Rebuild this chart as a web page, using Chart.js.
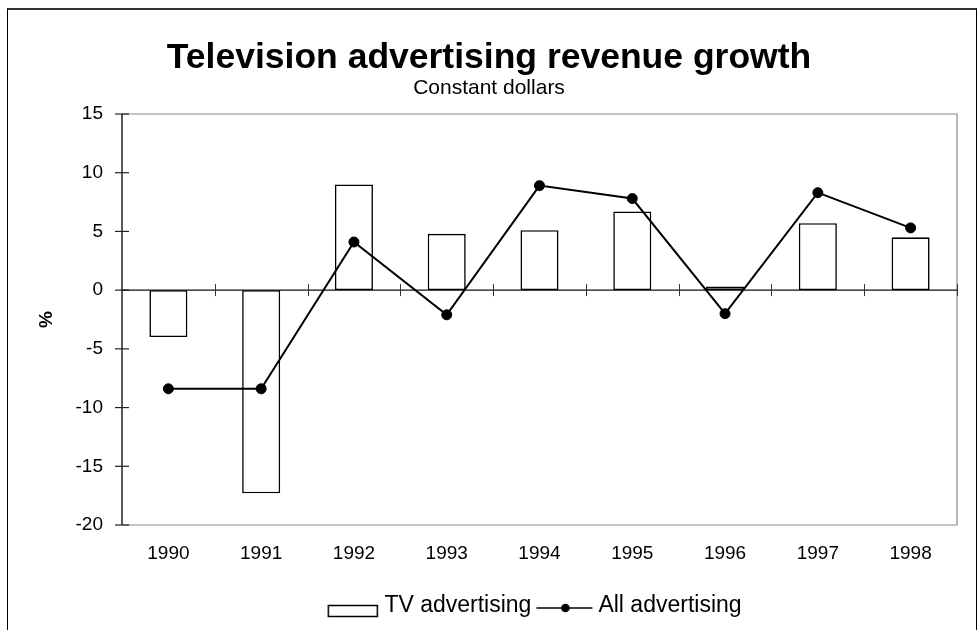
<!DOCTYPE html>
<html><head><meta charset="utf-8">
<script src="https://cdn.jsdelivr.net/npm/chart.js@4.4.1/dist/chart.umd.min.js"></script>
<style>
html,body{margin:0;padding:0;background:#fff;}
#wrap{position:relative;width:978px;height:630px;overflow:hidden;}
#frame{position:absolute;left:7px;top:8px;width:970px;height:630px;border-top:2px solid #333;border-left:1px solid #000;border-right:1px solid #000;box-sizing:border-box;pointer-events:none;}
canvas{position:absolute;left:0;top:0;}
</style></head><body>
<div id="wrap"><canvas id="c" width="978" height="630"></canvas><div id="frame"></div></div>
<script>
const years = ['1990','1991','1992','1993','1994','1995','1996','1997','1998'];
const tvAdvertising = [-4.0, -17.3, 9.0, 4.8, 5.1, 6.7, 0.3, 5.7, 4.5];
const allAdvertising = [-8.4, -8.4, 4.1, -2.1, 8.9, 7.8, -2.0, 8.3, 5.3];
const yTicks = [-20, -15, -10, -5, 0, 5, 10, 15];
const titleText = 'Television advertising revenue growth';
const subtitleText = 'Constant dollars';
const yAxisTitle = '%';
const seriesNames = ['TV advertising', 'All advertising'];

const FONT = "'Liberation Sans', Arial, Helvetica, sans-serif";

function rectIcon(){
  const c=document.createElement('canvas'); c.width=80; c.height=30;
  const g=c.getContext('2d');
  g.fillStyle='#fff'; g.strokeStyle='#000'; g.lineWidth=1.5;
  g.fillRect(13.25,14.5,49,11); g.strokeRect(13.25,14.5,49,11);
  return c;
}
function lineIcon(){
  const c=document.createElement('canvas'); c.width=80; c.height=30;
  const g=c.getContext('2d');
  g.strokeStyle='#000'; g.lineWidth=1.6;
  g.beginPath(); g.moveTo(7.25,17); g.lineTo(63.25,17); g.stroke();
  g.fillStyle='#000'; g.beginPath(); g.arc(36.25,17,4.3,0,Math.PI*2); g.fill();
  return c;
}

const axesPlugin = {
  id:'axesDraw',
  beforeDatasetsDraw(chart){
    const {ctx, chartArea:a, scales:{x,y}} = chart;
    ctx.save();
    ctx.strokeStyle='#8c8c8c'; ctx.lineWidth=1.2;
    ctx.beginPath();
    ctx.moveTo(a.left, a.top); ctx.lineTo(a.right, a.top); ctx.lineTo(a.right, a.bottom); ctx.lineTo(a.left, a.bottom);
    ctx.stroke();
    ctx.strokeStyle='#222'; ctx.lineWidth=1.5;
    ctx.beginPath(); ctx.moveTo(a.left, a.top); ctx.lineTo(a.left, a.bottom); ctx.stroke();
    ctx.lineWidth=1.2;
    yTicks.forEach(v=>{
      const py = y.getPixelForValue(v);
      ctx.beginPath(); ctx.moveTo(a.left-7, py); ctx.lineTo(a.left+7, py); ctx.stroke();
    });
    const p0 = y.getPixelForValue(0);
    ctx.strokeStyle='#111'; ctx.lineWidth=1.2;
    ctx.beginPath(); ctx.moveTo(a.left, p0); ctx.lineTo(a.right, p0); ctx.stroke();
    ctx.strokeStyle='#333'; ctx.lineWidth=1;
    for(let i=1;i<=years.length;i++){
      const px = Math.round(x.getPixelForValue(i-0.5))+0.5;
      ctx.beginPath(); ctx.moveTo(px, p0-6); ctx.lineTo(px, p0+6); ctx.stroke();
    }
    ctx.restore();
  }
};

const icons = [rectIcon(), lineIcon()];

new Chart(document.getElementById('c'), {
  type:'bar',
  data:{
    labels: years,
    datasets:[
      {type:'bar', label:seriesNames[0], data:tvAdvertising, backgroundColor:'#fff', borderColor:'#000', borderWidth:1.6, borderSkipped:false, categoryPercentage:1, barPercentage:0.41, order:1},
      {type:'line', label:seriesNames[1], data:allAdvertising, borderColor:'#000', borderWidth:2, pointRadius:5, pointBorderWidth:1, pointBackgroundColor:'#000', pointBorderColor:'#000', tension:0, fill:false, order:0}
    ]
  },
  options:{
    responsive:false, animation:false, devicePixelRatio:1,
    layout:{padding:{left:0, right:0, top:0, bottom:2.5}},
    plugins:{
      tooltip:{enabled:false},
      title:{display:true, text:titleText, color:'#000', font:{family:FONT, size:35.5, weight:'bold', lineHeight:1}, padding:{top:40, bottom:0}},
      subtitle:{display:true, text:subtitleText, color:'#000', font:{family:FONT, size:21, weight:'normal', lineHeight:1}, padding:{top:2, bottom:15.5}},
      legend:{
        position:'bottom', align:'center', fullSize:false,
        labels:{
          usePointStyle:true, pointStyleWidth:35.5, padding:20, color:'#000',
          font:{family:FONT, size:23},
          generateLabels:()=>seriesNames.map((n,i)=>({text:n, pointStyle:icons[i], fillStyle:'#fff', strokeStyle:'#000', lineWidth:0, datasetIndex:i, hidden:false, fontColor:'#000'}))
        }
      }
    },
    scales:{
      x:{
        type:'category', offset:true,
        grid:{display:false, drawTicks:false}, border:{display:false},
        ticks:{color:'#000', font:{family:FONT, size:19}, padding:17, maxRotation:0, autoSkip:false},
        afterFit:s=>{s.height=49.5;}
      },
      y:{
        type:'linear', position:'left', min:-20, max:15,
        grid:{display:false, drawTicks:false}, border:{display:false},
        ticks:{stepSize:5, color:'#000', font:{family:FONT, size:19}, padding:19},
        title:{display:true, text:yAxisTitle, color:'#000', font:{family:FONT, size:19, weight:'bold'}, padding:{top:35.6, bottom:0}},
        afterFit:s=>{s.width=122;}
      },
      yR:{
        type:'linear', position:'right', display:true,
        grid:{display:false, drawTicks:false}, border:{display:false},
        ticks:{display:false},
        afterFit:s=>{s.width=21;}
      }
    }
  },
  plugins:[axesPlugin]
});
</script>
</body></html>
